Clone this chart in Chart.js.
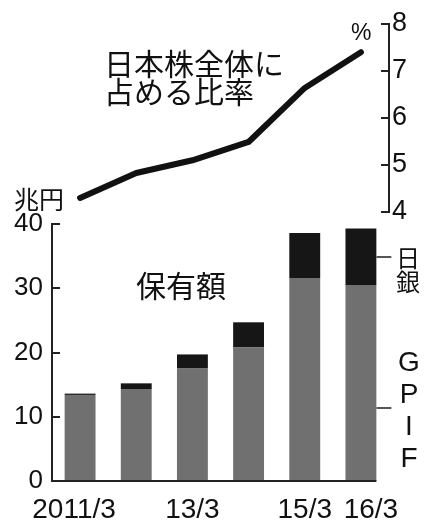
<!DOCTYPE html>
<html>
<head>
<meta charset="utf-8">
<script src="https://cdn.jsdelivr.net/npm/chart.js@4"></script>
<style>
body { margin: 0; background: #fff; }
#wrap { position: relative; width: 429px; height: 524px; overflow: hidden; font-family: "Noto Sans CJK JP", sans-serif; color: #111; }
canvas { position: absolute; left: 0; top: 0; }
.t { position: absolute; white-space: nowrap; }
</style>
</head>
<body>
<div id="wrap">
  <canvas id="top" width="429" height="524"></canvas>
  <canvas id="bot" width="429" height="524"></canvas>
  <div class="t" style="left:104px;top:48px;font-size:30px;line-height:28px">日本株全体に<br>占める比率</div>
  <div class="t" style="left:136px;top:269px;font-size:30px;line-height:30px">保有額</div>
  <div class="t" style="left:14px;top:186px;font-size:25px;line-height:24px">兆円</div>
  <div class="t" style="left:351px;top:21px;font-size:23px;line-height:22px;font-family:'Liberation Sans',sans-serif">%</div>
  <div class="t" style="left:396px;top:245px;font-size:24px;line-height:24px">日<br>銀</div>
  <div class="t" style="left:394px;top:346px;width:30px;text-align:center;font-size:28px;line-height:32px;font-family:'Liberation Sans',sans-serif">G<br>P<br>I<br>F</div>
</div>
<script>
// values
var years = ['2011/3', '12/3', '13/3', '14/3', '15/3', '16/3'];
var shownYears = ['2011/3', '13/3', '15/3', '16/3'];
var gpif = [13.4, 14.3, 17.5, 20.8, 31.6, 30.5];   // 兆円
var boj = [0.2, 0.9, 2.2, 3.9, 7.0, 8.8];          // 兆円
var share = [4.30, 4.83, 5.10, 5.49, 6.64, 7.40];  // %

Chart.defaults.font.family = '"Liberation Sans", sans-serif';
Chart.defaults.color = '#111';

// tick marks that point into the plot
var inwardTicks = {
  id: 'inwardTicks',
  afterDraw: function(chart) {
    var ctx = chart.ctx, ys = chart.scales.y, a = chart.chartArea;
    var right = ys.position === 'right';
    var x = right ? a.right : a.left;
    ctx.save();
    ctx.strokeStyle = '#222';
    ctx.lineWidth = 2;
    ys.ticks.forEach(function(t) {
      var y = Math.round(ys.getPixelForValue(t.value));
      ctx.beginPath();
      ctx.moveTo(x, y);
      ctx.lineTo(x + (right ? -8 : 8), y);
      ctx.stroke();
    });
    ctx.restore();
  }
};

// baseline that stops at the last bar, the marks for 日銀 / GPIF, and the year labels
var barExtras = {
  id: 'barExtras',
  afterDraw: function(chart) {
    var ctx = chart.ctx, xs = chart.scales.x, ys = chart.scales.y, a = chart.chartArea;
    var meta = chart.getDatasetMeta(0);
    var last = meta.data[meta.data.length - 1];
    var edge = last.x + last.width / 2;
    var n = gpif.length - 1;
    ctx.save();
    ctx.strokeStyle = '#222';
    ctx.lineWidth = 2;
    ctx.beginPath();
    ctx.moveTo(a.left, a.bottom);
    ctx.lineTo(edge, a.bottom);
    ctx.stroke();
    ctx.strokeStyle = '#555';
    [gpif[n] + boj[n] / 2, 11.3].forEach(function(v) {
      var y = Math.round(ys.getPixelForValue(v));
      ctx.beginPath();
      ctx.moveTo(edge, y);
      ctx.lineTo(edge + 15, y);
      ctx.stroke();
    });
    // first and last labels sit a little outwards, as in the print
    var nudge = { 0: -6, 5: 10 };
    ctx.fillStyle = '#111';
    ctx.font = '28px "Liberation Sans", sans-serif';
    ctx.textAlign = 'center';
    ctx.textBaseline = 'alphabetic';
    years.forEach(function(lab, i) {
      if (shownYears.indexOf(lab) < 0) return;
      ctx.fillText(lab, xs.getPixelForValue(i) + (nudge[i] || 0), a.bottom + 37);
    });
    ctx.restore();
  }
};

new Chart(document.getElementById('top'), {
  type: 'line',
  data: {
    labels: years,
    datasets: [{
      data: share,
      borderColor: '#111',
      borderWidth: 6,
      pointRadius: 0,
      tension: 0,
      borderCapStyle: 'round',
      borderJoinStyle: 'round'
    }]
  },
  options: {
    responsive: false,
    animation: false,
    layout: { padding: { left: 52, top: 24, right: 0, bottom: 312 } },
    plugins: { legend: { display: false }, tooltip: { enabled: false } },
    scales: {
      x: { display: false, offset: true },
      y: {
        position: 'right', min: 4, max: 8,
        grid: { display: false, drawTicks: false },
        border: { display: true, color: '#222', width: 2 },
        ticks: { stepSize: 1, padding: 3, font: { size: 27 } },
        afterFit: function(s) { s.width = 40; }
      }
    }
  },
  plugins: [inwardTicks]
});

new Chart(document.getElementById('bot'), {
  type: 'bar',
  data: {
    labels: years,
    datasets: [
      { label: 'GPIF', data: gpif, backgroundColor: '#707070', stack: 's' },
      { label: '日銀', data: boj, backgroundColor: '#161616', stack: 's' }
    ]
  },
  options: {
    responsive: false,
    animation: false,
    layout: { padding: { left: 0, top: 224, right: 40, bottom: 0 } },
    datasets: { bar: { categoryPercentage: 1, barPercentage: 0.55 } },
    plugins: { legend: { display: false }, tooltip: { enabled: false } },
    scales: {
      x: {
        stacked: true,
        grid: { display: false, drawTicks: false },
        border: { display: false },
        ticks: { display: false },
        afterFit: function(s) { s.height = 43; }
      },
      y: {
        stacked: true, min: 0, max: 40,
        grid: { display: false, drawTicks: false },
        border: { display: true, color: '#222', width: 2 },
        ticks: { stepSize: 10, padding: 9, font: { size: 26 } },
        afterFit: function(s) { s.width = 52; }
      }
    }
  },
  plugins: [inwardTicks, barExtras]
});
</script>
</body>
</html>
